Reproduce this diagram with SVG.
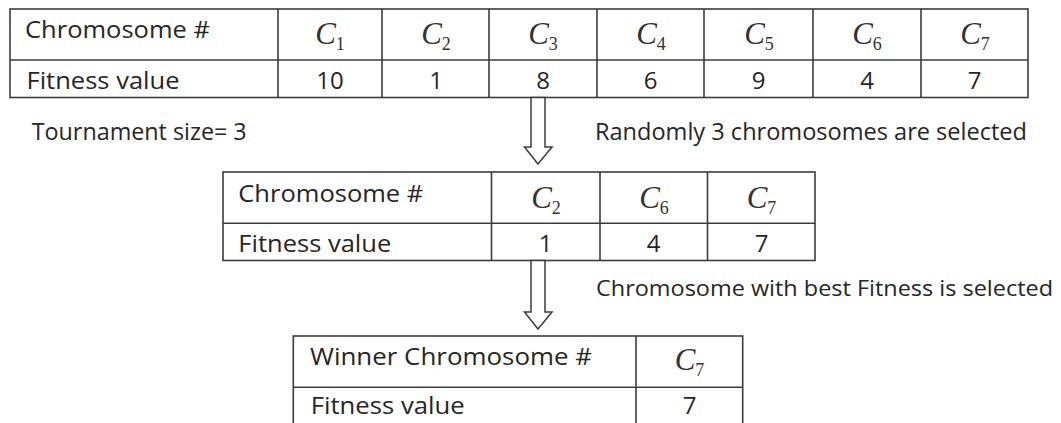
<svg xmlns="http://www.w3.org/2000/svg" width="1061" height="423" viewBox="0 0 1061 423">
  <style>
    .grid { fill: none; stroke: #3c3c3c; stroke-width: 1.6; }
    .lbl { font-family: "Open Sans", "Noto Sans", sans-serif; font-size: 24px; fill: #262626; }
    .lbl.narrow { font-size: 21.5px; }
    .num { font-family: "Open Sans", "Noto Sans", sans-serif; font-size: 24px; fill: #262626; text-anchor: middle; }
    .ci { font-family: "Liberation Serif", "DejaVu Serif", serif; font-style: italic; font-size: 31px; fill: #333333; text-anchor: middle; }
    .sub { font-size: 18px; font-style: normal; }
    .arrow { fill: #ffffff; stroke: #3c3c3c; stroke-width: 1.5; stroke-linejoin: miter; }
  </style>

  <rect width="1061" height="423" fill="#ffffff"/>

  <!-- population table -->
  <g id="population">
    <rect class="grid" x="10" y="9" width="1018" height="88.5"/>
    <path class="grid" d="M10 60H1028 M278 9V97.5 M382 9V97.5 M489 9V97.5 M597 9V97.5 M704 9V97.5 M813 9V97.5 M921 9V97.5"/>
    <text class="lbl" x="25" y="37.5" textLength="185" lengthAdjust="spacingAndGlyphs">Chromosome #</text>
    <text class="lbl" x="26.5" y="88.5" textLength="153" lengthAdjust="spacingAndGlyphs">Fitness value</text>
    <text class="ci" x="330" y="44">C<tspan class="sub" dy="6">1</tspan></text>
    <text class="ci" x="436" y="44">C<tspan class="sub" dy="6">2</tspan></text>
    <text class="ci" x="543" y="44">C<tspan class="sub" dy="6">3</tspan></text>
    <text class="ci" x="651" y="44">C<tspan class="sub" dy="6">4</tspan></text>
    <text class="ci" x="759" y="44">C<tspan class="sub" dy="6">5</tspan></text>
    <text class="ci" x="867" y="44">C<tspan class="sub" dy="6">6</tspan></text>
    <text class="ci" x="975" y="44">C<tspan class="sub" dy="6">7</tspan></text>
    <text class="num" x="330" y="88.5">10</text>
    <text class="num" x="436" y="88.5">1</text>
    <text class="num" x="543" y="88.5">8</text>
    <text class="num" x="650.5" y="88.5">6</text>
    <text class="num" x="758.5" y="88.5">9</text>
    <text class="num" x="867" y="88.5">4</text>
    <text class="num" x="974.5" y="88.5">7</text>
  </g>

  <!-- tournament table -->
  <g id="tournament">
    <rect class="grid" x="223" y="172" width="592" height="88.5"/>
    <path class="grid" d="M223 223.3H815 M491.5 172V260.5 M600 172V260.5 M707.5 172V260.5"/>
    <text class="lbl" x="238.3" y="201.7" textLength="185" lengthAdjust="spacingAndGlyphs">Chromosome #</text>
    <text class="lbl" x="238.3" y="251.7" textLength="153" lengthAdjust="spacingAndGlyphs">Fitness value</text>
    <text class="ci" x="546" y="208">C<tspan class="sub" dy="6">2</tspan></text>
    <text class="ci" x="654" y="208">C<tspan class="sub" dy="6">6</tspan></text>
    <text class="ci" x="761.5" y="208">C<tspan class="sub" dy="6">7</tspan></text>
    <text class="num" x="545.5" y="251.7">1</text>
    <text class="num" x="653.5" y="251.7">4</text>
    <text class="num" x="761.5" y="251.7">7</text>
  </g>

  <!-- winner table -->
  <g id="winner">
    <rect class="grid" x="293.3" y="336" width="449.4" height="89"/>
    <path class="grid" d="M293.3 387.3H742.7 M636 336V425"/>
    <text class="lbl" x="310" y="365" textLength="282" lengthAdjust="spacingAndGlyphs">Winner Chromosome #</text>
    <text class="lbl" x="310.7" y="413.5" textLength="154" lengthAdjust="spacingAndGlyphs">Fitness value</text>
    <text class="ci" x="689.5" y="370">C<tspan class="sub" dy="6">7</tspan></text>
    <text class="num" x="689.5" y="413.5">7</text>
  </g>

  <!-- side notes -->
  <g id="notes">
    <text class="lbl" x="31.7" y="139.5" textLength="215" lengthAdjust="spacingAndGlyphs">Tournament size= 3</text>
    <text class="lbl" x="595" y="140" textLength="432" lengthAdjust="spacingAndGlyphs">Randomly 3 chromosomes are selected</text>
    <text class="lbl narrow" x="596" y="296" textLength="457" lengthAdjust="spacingAndGlyphs">Chromosome with best Fitness is selected</text>
  </g>

  <!-- block arrows between stages -->
  <g id="connectors">
    <polygon class="arrow" points="531,97.5 545,97.5 545,147 552,147 538,164 524.5,147 531,147"/>
    <polygon class="arrow" points="531,260.5 545,260.5 545,312 552,312 538,329 524.5,312 531,312"/>
  </g>
</svg>
